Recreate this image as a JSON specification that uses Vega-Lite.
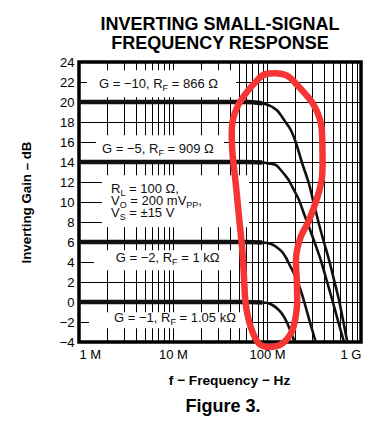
{
  "$schema": "https://vega.github.io/schema/vega-lite/v6.json",
  "background": "white",
  "padding": {"left": 17, "top": 14, "right": 5, "bottom": 5},
  "config": {
    "font": "Liberation Sans",
    "view": {"stroke": "black", "strokeWidth": 3.5},
    "axis": {
      "labelFont": "Liberation Sans", "labelFontSize": 13, "labelColor": "black",
      "titleFont": "Liberation Sans", "titleColor": "black",
      "gridColor": "black", "gridOpacity": 1, "gridWidth": 1,
      "ticks": false, "domain": false, "labelOverlap": false
    },
    "title": {"font": "Liberation Sans", "color": "black"}
  },
  "title": {"text": "Figure 3.", "orient": "bottom", "fontSize": 18, "fontWeight": "bold", "anchor": "middle", "offset": 10, "dx": 33},
  "datasets": {
    "boxes": [
      {"f": 1.216, "f2": 46.8, "g": 23.17, "g2": 20.47},
      {"f": 1.516, "f2": 34.9, "g": 16.67, "g2": 14.17},
      {"f": 1.756, "f2": 64.3, "g": 12.67, "g2": 7.47},
      {"f": 1.444, "f2": 50.4, "g": 5.17, "g2": 3.17},
      {"f": 1.278, "f2": 64.3, "g": -1.03, "g2": -2.63}
    ],
    "curves": [
      {"G": "-10", "f": 1, "g": 20}, {"G": "-10", "f": 10, "g": 20}, {"G": "-10", "f": 60, "g": 20}, {"G": "-10", "f": 80, "g": 19.92}, {"G": "-10", "f": 89, "g": 19.85}, {"G": "-10", "f": 100, "g": 19.75}, {"G": "-10", "f": 114, "g": 19.5}, {"G": "-10", "f": 130, "g": 19.1}, {"G": "-10", "f": 145, "g": 18.5}, {"G": "-10", "f": 160, "g": 17.9}, {"G": "-10", "f": 179, "g": 17.2}, {"G": "-10", "f": 195, "g": 16.4}, {"G": "-10", "f": 210, "g": 15.5}, {"G": "-10", "f": 238, "g": 13.8}, {"G": "-10", "f": 280, "g": 11.8}, {"G": "-10", "f": 316, "g": 9.8}, {"G": "-10", "f": 357, "g": 7.8}, {"G": "-10", "f": 400, "g": 6.1}, {"G": "-10", "f": 457, "g": 4.2}, {"G": "-10", "f": 520, "g": 2.1}, {"G": "-10", "f": 583, "g": 0.2}, {"G": "-10", "f": 650, "g": -2.0}, {"G": "-10", "f": 715, "g": -4},
      {"G": "-5", "f": 1, "g": 14}, {"G": "-5", "f": 10, "g": 14}, {"G": "-5", "f": 60, "g": 14}, {"G": "-5", "f": 89, "g": 13.95}, {"G": "-5", "f": 105, "g": 13.85}, {"G": "-5", "f": 124, "g": 13.7}, {"G": "-5", "f": 140, "g": 13.2}, {"G": "-5", "f": 152, "g": 12.8}, {"G": "-5", "f": 170, "g": 12.2}, {"G": "-5", "f": 186, "g": 11.5}, {"G": "-5", "f": 219, "g": 10.2}, {"G": "-5", "f": 248, "g": 8.8}, {"G": "-5", "f": 280, "g": 7.5}, {"G": "-5", "f": 320, "g": 6.0}, {"G": "-5", "f": 373, "g": 4.2}, {"G": "-5", "f": 430, "g": 2.2}, {"G": "-5", "f": 495, "g": 0.2}, {"G": "-5", "f": 570, "g": -1.9}, {"G": "-5", "f": 659, "g": -4},
      {"G": "-2", "f": 1, "g": 6}, {"G": "-2", "f": 10, "g": 6}, {"G": "-2", "f": 60, "g": 6}, {"G": "-2", "f": 89, "g": 5.95}, {"G": "-2", "f": 100, "g": 5.9}, {"G": "-2", "f": 114, "g": 5.75}, {"G": "-2", "f": 130, "g": 5.4}, {"G": "-2", "f": 145, "g": 5.0}, {"G": "-2", "f": 160, "g": 4.4}, {"G": "-2", "f": 172, "g": 3.8}, {"G": "-2", "f": 202, "g": 2.5}, {"G": "-2", "f": 228, "g": 1.2}, {"G": "-2", "f": 258, "g": -0.5}, {"G": "-2", "f": 290, "g": -2.2}, {"G": "-2", "f": 330, "g": -4},
      {"G": "-1", "f": 1, "g": 0}, {"G": "-1", "f": 10, "g": 0}, {"G": "-1", "f": 60, "g": 0}, {"G": "-1", "f": 89, "g": -0.05}, {"G": "-1", "f": 100, "g": -0.1}, {"G": "-1", "f": 114, "g": -0.3}, {"G": "-1", "f": 130, "g": -0.7}, {"G": "-1", "f": 145, "g": -1.2}, {"G": "-1", "f": 164, "g": -2.1}, {"G": "-1", "f": 176, "g": -2.8}, {"G": "-1", "f": 186, "g": -3.35}, {"G": "-1", "f": 196, "g": -4}
    ],
    "labels": [
      {"f": 1.632, "g": 21.39, "t": "G = −10, R", "k": "m"},
      {"f": 7.75, "g": 21.09, "t": "F", "k": "s"},
      {"f": 9.69, "g": 21.39, "t": "= 866 Ω", "k": "m"},
      {"f": 1.756, "g": 14.89, "t": "G = −5, R", "k": "m"},
      {"f": 7.0, "g": 14.59, "t": "F", "k": "s"},
      {"f": 8.74, "g": 14.89, "t": "= 909 Ω", "k": "m"},
      {"f": 2.19, "g": 10.89, "t": "R", "k": "m"},
      {"f": 2.757, "g": 10.59, "t": "L", "k": "s"},
      {"f": 3.403, "g": 10.89, "t": "= 100 Ω,", "k": "m"},
      {"f": 2.19, "g": 9.72, "t": "V", "k": "m"},
      {"f": 2.71, "g": 9.42, "t": "O", "k": "s"},
      {"f": 3.513, "g": 9.72, "t": "= 200 mV", "k": "m"},
      {"f": 13.85, "g": 9.42, "t": "PP", "k": "s"},
      {"f": 18.58, "g": 9.72, "t": ",", "k": "m"},
      {"f": 2.19, "g": 8.55, "t": "V", "k": "m"},
      {"f": 2.71, "g": 8.25, "t": "S", "k": "s"},
      {"f": 3.428, "g": 8.55, "t": "= ±15 V", "k": "m"},
      {"f": 2.457, "g": 4.05, "t": "G = −2, R", "k": "m"},
      {"f": 9.78, "g": 3.75, "t": "F", "k": "s"},
      {"f": 12.23, "g": 4.05, "t": "= 1 kΩ", "k": "m"},
      {"f": 2.357, "g": -1.95, "t": "G = −1, R", "k": "m"},
      {"f": 9.38, "g": -2.25, "t": "F", "k": "s"},
      {"f": 11.73, "g": -1.95, "t": "= 1.05 kΩ", "k": "m"}
    ],
    "loop": [
      {"i": 1, "f": 96.9, "g": 22.8}, {"i": 2, "f": 158, "g": 22.7}, {"i": 3, "f": 219, "g": 21.5}, {"i": 4, "f": 308, "g": 19.84}, {"i": 5, "f": 375, "g": 17.84}, {"i": 6, "f": 389, "g": 15.17}, {"i": 7, "f": 385, "g": 12.5}, {"i": 8, "f": 344, "g": 10.5}, {"i": 9, "f": 280, "g": 8.17}, {"i": 10, "f": 228, "g": 6.5}, {"i": 11, "f": 204, "g": 4.5}, {"i": 12, "f": 208, "g": 1.84}, {"i": 13, "f": 208, "g": -0.5}, {"i": 14, "f": 186, "g": -2.83}, {"i": 15, "f": 145, "g": -4.16}, {"i": 16, "f": 105, "g": -4.5}, {"i": 17, "f": 82.2, "g": -4.16}, {"i": 18, "f": 67.1, "g": -2.5}, {"i": 19, "f": 59.3, "g": -0.16}, {"i": 20, "f": 56.9, "g": 2.5}, {"i": 21, "f": 54.6, "g": 5.17}, {"i": 22, "f": 50.4, "g": 8.5}, {"i": 23, "f": 46.5, "g": 11.84}, {"i": 24, "f": 42.7, "g": 15.17}, {"i": 25, "f": 42.7, "g": 17.84}, {"i": 26, "f": 48.3, "g": 19.5}, {"i": 27, "f": 59.3, "g": 20.84}, {"i": 28, "f": 75.8, "g": 22.0}
    ]
  },
  "vconcat": [
    {
      "width": 282,
      "height": 280,
      "title": {"text": ["INVERTING SMALL-SIGNAL", "FREQUENCY RESPONSE"], "fontSize": 18, "fontWeight": "bold", "lineHeight": 19, "anchor": "middle", "frame": "group", "offset": 3},
      "encoding": {
        "x": {"field": "f", "type": "quantitative",
          "scale": {"type": "log", "domain": [1, 1000]},
          "axis": {
            "values": [1, 2, 3, 4, 5, 6, 7, 8, 9, 10, 20, 30, 40, 50, 60, 70, 80, 90, 100, 200, 300, 400, 500, 600, 700, 800, 900, 1000],
            "labelExpr": "datum.value == 1 ? '1 M' : datum.value == 10 ? '10 M' : datum.value == 100 ? '100 M' : datum.value == 1000 ? '1 G' : ''",
            "labelFlush": true, "labelOverlap": false, "labelBound": false, "labelPadding": 6,
            "title": "f − Frequency − Hz", "titleFontSize": 13.7, "titleFontWeight": "bold", "titlePadding": 12, "titleX": 150
          }
        },
        "y": {"field": "g", "type": "quantitative",
          "scale": {"domain": [-4, 24], "nice": false, "zero": false},
          "axis": {
            "values": [-4, -2, 0, 2, 4, 6, 8, 10, 12, 14, 16, 18, 20, 22, 24],
            "labelOverlap": false,
            "labelPadding": 5,
            "title": "Inverting Gain – dB", "titleFontSize": 13.3, "titleFontWeight": "bold", "titlePadding": 26
          }
        }
      },
      "layer": [
        {
          "data": {"name": "boxes"},
          "mark": {"type": "rect", "fill": "white"},
          "encoding": {
            "x2": {"field": "f2"},
            "y2": {"field": "g2"}
          }
        },
        {
          "data": {"name": "labels"},
          "transform": [{"filter": "datum.k == 'm'"}],
          "mark": {"type": "text", "align": "left", "baseline": "alphabetic", "fontSize": 13, "color": "#111"},
          "encoding": {
            "text": {"field": "t"}
          }
        },
        {
          "data": {"name": "labels"},
          "transform": [{"filter": "datum.k == 's'"}],
          "mark": {"type": "text", "align": "left", "baseline": "alphabetic", "fontSize": 9, "color": "#111"},
          "encoding": {
            "text": {"field": "t"}
          }
        },
        {
          "data": {"name": "curves"},
          "mark": {"type": "line", "color": "#111", "strokeWidth": 2.6, "interpolate": "monotone"},
          "encoding": {
            "detail": {"field": "G"}
          }
        },
        {
          "data": {"name": "curves"},
          "transform": [{"filter": "datum.f <= 89"}],
          "mark": {"type": "line", "color": "#111", "strokeWidth": 4.5, "interpolate": "monotone"},
          "encoding": {
            "detail": {"field": "G"}
          }
        },
        {
          "data": {"name": "loop"},
          "mark": {"type": "line", "color": "#f63535", "strokeWidth": 6.5, "interpolate": "cardinal-closed", "strokeCap": "round", "strokeJoin": "round"},
          "encoding": {
            "order": {"field": "i", "type": "quantitative"}
          }
        }
      ]
    }
  ]
}
